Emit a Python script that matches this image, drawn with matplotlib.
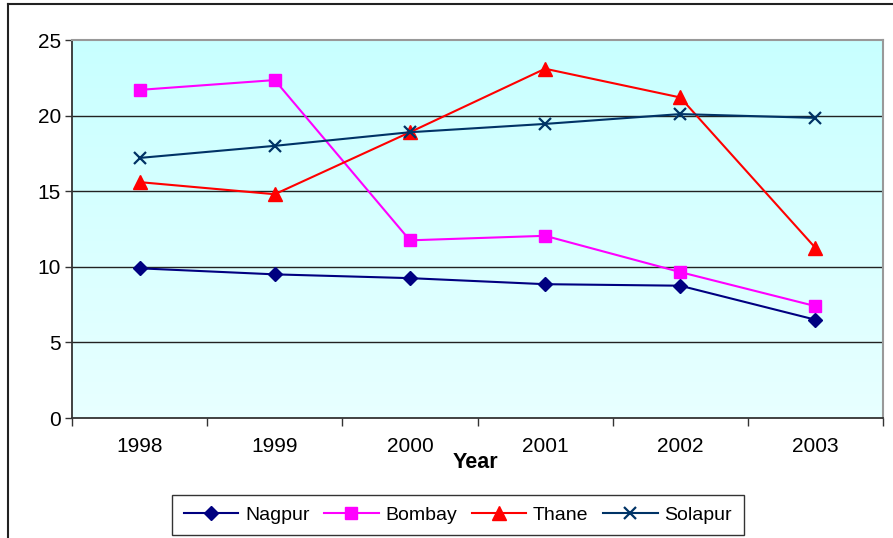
import matplotlib
matplotlib.use("Agg")
import matplotlib.pyplot as plt
import numpy as np
from matplotlib.lines import Line2D
from matplotlib.colors import LinearSegmentedColormap

plt.rcParams['font.family'] = ['Liberation Sans', 'DejaVu Sans']

years = ["1998", "1999", "2000", "2001", "2002", "2003"]
nagpur = [9.9, 9.5, 9.25, 8.85, 8.75, 6.5]
bombay = [21.7, 22.35, 11.75, 12.05, 9.65, 7.4]
thane = [15.6, 14.8, 18.9, 23.1, 21.2, 11.25]
solapur = [17.2, 18.0, 18.9, 19.45, 20.1, 19.85]

W, H = 893, 538
fig = plt.figure(figsize=(W / 100, H / 100), dpi=100)
L, R, T, B = 72, 883, 40, 418
ax = fig.add_axes([L / W, 1 - B / H, (R - L) / W, (B - T) / H])

x = np.arange(len(years))
ax.set_xlim(-0.5, len(years) - 0.5)
ax.set_ylim(0, 25)

# gradient background
cmap = LinearSegmentedColormap.from_list("bg", ["#E8FFFF", "#C8FFFF"])
grad = np.linspace(0, 1, 256).reshape(-1, 1)
ax.imshow(grad, extent=[-0.5, len(years) - 0.5, 0, 25], origin="lower",
          aspect="auto", cmap=cmap, zorder=0)

for yv in [5, 10, 15, 20]:
    ax.axhline(yv, color="#222222", lw=1.0, zorder=1)

lw = 1.5
ax.plot(x, nagpur, color="#000080", lw=lw, marker="D", ms=7, label="Nagpur", zorder=3)
ax.plot(x, bombay, color="#FF00FF", lw=lw, marker="s", ms=9, label="Bombay", zorder=3)
ax.plot(x, thane, color="#FF0000", lw=lw, marker="^", ms=10, label="Thane", zorder=3)
ax.plot(x, solapur, color="#003366", lw=lw, marker="x", ms=9, mew=1.6, label="Solapur", zorder=4)

ax.set_yticks([0, 5, 10, 15, 20, 25])
ax.set_xticks(x)
ax.set_xticklabels(years)
ax.set_xticks(np.arange(-0.5, len(years)), minor=True)
ax.tick_params(axis="x", which="major", length=0, pad=14, labelsize=15)
ax.tick_params(axis="x", which="minor", length=6, width=1, color="#333333", direction="out")
ax.tick_params(axis="y", length=5, width=1, color="#333333", direction="out", labelsize=15, pad=3)

for s in ["left", "bottom"]:
    ax.spines[s].set_color("#333333")
    ax.spines[s].set_linewidth(1.3)
for s in ["top", "right"]:
    ax.spines[s].set_color("#999999")
    ax.spines[s].set_linewidth(1.5)

fig.text(475 / W, 1 - 463 / H, "Year", fontsize=15.5, fontweight="bold",
         ha="center", va="center")

leg = fig.legend(loc="center", bbox_to_anchor=(458 / W, 1 - 515 / H), ncol=4,
                 fontsize=14, frameon=True, fancybox=False, edgecolor="black",
                 handlelength=2.8, columnspacing=0.75, handletextpad=0.35,
                 borderpad=0.6, borderaxespad=0)
leg.get_frame().set_linewidth(1.0)

# outer border
fig.add_artist(Line2D([8 / W, 8 / W], [0, 1 - 4 / H], transform=fig.transFigure,
                      color="#222222", lw=1.5))
fig.add_artist(Line2D([8 / W, 1], [1 - 4 / H, 1 - 4 / H], transform=fig.transFigure,
                      color="#222222", lw=1.5))

fig.savefig("out.png", dpi=100)
